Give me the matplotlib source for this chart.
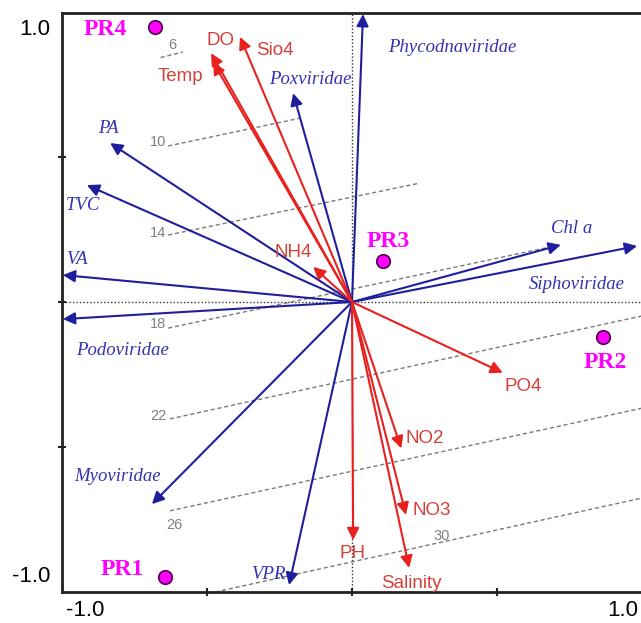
import matplotlib
matplotlib.use("Agg")
import matplotlib.pyplot as plt

# ---- data ----
bio_names = ["Phycodnaviridae", "Poxviridae", "PA", "TVC", "VA", "Podoviridae",
             "Myoviridae", "VPR", "Chl a", "Siphoviridae"]
bio_x = [0.038, -0.203, -0.834, -0.914, -0.997, -0.997, -0.690, -0.217, 0.720, 0.983]
bio_y = [0.993, 0.720, 0.548, 0.403, 0.093, -0.059, -0.697, -0.976, 0.197, 0.193]
bio_lx = [0.345, -0.145, -0.841, -0.928, -0.948, -0.790, -0.807, -0.290, 0.759, 0.776]
bio_ly = [0.876, 0.766, 0.600, 0.334, 0.145, -0.166, -0.600, -0.938, 0.255, 0.062]

env_names = ["DO", "Temp", "Sio4", "NH4", "PO4", "NO2", "NO3", "PH", "Salinity"]
env_x = [-0.486, -0.479, -0.386, -0.134, 0.520, 0.170, 0.186, 0.004, 0.197]
env_y = [0.858, 0.827, 0.914, 0.121, -0.244, -0.505, -0.734, -0.821, -0.917]
env_lx = [-0.455, -0.593, -0.266, -0.203, 0.590, 0.252, 0.276, 0.003, 0.203]
env_ly = [0.903, 0.776, 0.869, 0.169, -0.290, -0.469, -0.720, -0.866, -0.969]

site_names = ["PR1", "PR2", "PR3", "PR4"]
site_x = [-0.645, 0.866, 0.107, -0.679]
site_y = [-0.948, -0.120, 0.141, 0.948]
site_lx = [-0.793, 0.872, 0.124, -0.852]
site_ly = [-0.921, -0.210, 0.207, 0.938]

iso_levels = ["6", "10", "14", "18", "22", "26", "30"]
iso_x0 = [-0.660, -0.634, -0.634, -0.634, -0.628, -0.628, -0.472]
iso_y0 = [0.843, 0.538, 0.231, -0.090, -0.403, -0.720, -1.000]
iso_x1 = [-0.583, -0.179, 0.234, 0.717, 1.000, 1.000, 1.000]
iso_y1 = [0.862, 0.634, 0.410, 0.197, -0.048, -0.366, -0.676]
iso_lx = [-0.621, -0.669, -0.669, -0.669, -0.669, -0.614, 0.310]
iso_ly = [0.886, 0.552, 0.238, -0.076, -0.393, -0.769, -0.807]

# ---- figure ----
fig = plt.figure(figsize=(6.41, 6.23), dpi=100)
ax = fig.add_axes([62 / 641, 31 / 623, 579 / 641, 579 / 623])
ax.set_xlim(-1.0, 0.9966)
ax.set_ylim(-1.0, 0.9966)

BLUE = "#1f1f9e"
BLUE_T = "#3232b4"
RED = "#e8201e"
RED_T = "#d4413c"
MAG = "#ff00ff"

# reference dotted axes
ax.axhline(0, color="#333333", lw=1.0, ls=(0, (1, 1.5)), zorder=1)
ax.axvline(0, color="#333333", lw=1.0, ls=(0, (1, 1.5)), zorder=1)

# isolines
for lev, x0, y0, x1, y1, lx, ly in zip(iso_levels, iso_x0, iso_y0, iso_x1, iso_y1, iso_lx, iso_ly):
    ax.plot([x0, x1], [y0, y1], color="#7a7a7a", lw=1.0, ls=(0, (3, 2)), zorder=1)
    ax.text(lx, ly, lev, color="#808080", fontsize=10.5, family="Liberation Sans",
            ha="center", va="center", zorder=2)

# biological arrows
for n, x, y, lx, ly in zip(bio_names, bio_x, bio_y, bio_lx, bio_ly):
    ax.annotate("", xy=(x, y), xytext=(0, 0),
                arrowprops=dict(arrowstyle="-|>", color=BLUE, lw=1.5,
                                mutation_scale=18, shrinkA=0, shrinkB=0), zorder=3)
    ax.text(lx, ly, n, color=BLUE_T, fontsize=13.5, family="Liberation Serif",
            style="italic", ha="center", va="center", zorder=4)

# environmental arrows
for n, x, y, lx, ly in zip(env_names, env_x, env_y, env_lx, env_ly):
    ax.annotate("", xy=(x, y), xytext=(0, 0),
                arrowprops=dict(arrowstyle="-|>", color=RED, lw=1.5,
                                mutation_scale=18, shrinkA=0, shrinkB=0), zorder=3)
    ax.text(lx, ly, n, color=RED_T, fontsize=13.5, family="Liberation Sans",
            ha="center", va="center", zorder=4)

# sites
ax.scatter(site_x, site_y, s=95, color=MAG, edgecolor="#4a004a", linewidth=1.2, zorder=5)
for n, lx, ly in zip(site_names, site_lx, site_ly):
    ax.text(lx, ly, n, color=MAG, fontsize=17, family="Liberation Serif",
            weight="bold", ha="center", va="center", zorder=5)

# spines and ticks
for s in ["left", "bottom", "top"]:
    ax.spines[s].set_linewidth(2.0)
    ax.spines[s].set_color("#222222")
ax.spines["right"].set_visible(False)
ax.set_xticks([-0.5, 0, 0.5])
ax.set_yticks([-0.5, 0, 0.5])
ax.tick_params(direction="inout", length=6, width=1.5, labelbottom=False, labelleft=False,
               color="#222222")

# axis end labels
ax.text(-0.92, -1.065, "-1.0", fontsize=16, family="Liberation Sans", ha="center", va="center",
        clip_on=False)
ax.text(0.934, -1.065, "1.0", fontsize=16, family="Liberation Sans", ha="center", va="center",
        clip_on=False)
ax.text(-1.04, 0.938, "1.0", fontsize=16, family="Liberation Sans", ha="right", va="center",
        clip_on=False)
ax.text(-1.04, -0.948, "-1.0", fontsize=16, family="Liberation Sans", ha="right", va="center",
        clip_on=False)

fig.savefig("out.png", dpi=100)
